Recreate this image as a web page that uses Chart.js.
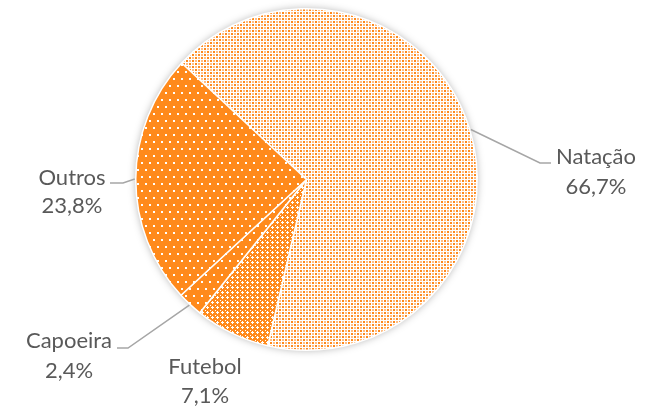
<!DOCTYPE html>
<html>
<head>
<meta charset="utf-8">
<script src="https://cdn.jsdelivr.net/npm/chart.js@4.4.0/dist/chart.umd.min.js"></script>
<style>
html,body{margin:0;padding:0;background:#fff;}
#wrap{width:659px;height:408px;position:relative;}
</style>
</head>
<body>
<div id="wrap"><canvas id="c" width="659" height="408"></canvas></div>
<script>
const categories = ["Natação", "Futebol", "Capoeira", "Outros"];
const values = [66.7, 7.1, 2.4, 23.8];
const valueLabels = ["66,7%", "7,1%", "2,4%", "23,8%"];

const ORANGE = "#FF8A1C";
const PEACH = "#FFBE85";
const WHITE = "#FFFFFF";

function makePattern(w, h, bg, cells) {
  const c = document.createElement("canvas");
  c.width = w; c.height = h;
  const x = c.getContext("2d");
  x.fillStyle = bg; x.fillRect(0, 0, w, h);
  cells.forEach(([cx, cy, cw, ch, col]) => { x.fillStyle = col; x.fillRect(cx, cy, cw, ch); });
  return document.getElementById("c").getContext("2d").createPattern(c, "repeat");
}

const patNatacao = makePattern(6, 6, WHITE, [
  [0,0,2,2,ORANGE],[3,3,2,2,ORANGE],[3,0,2,2,PEACH],[0,3,2,2,PEACH]
]);
const patFutebol = makePattern(5, 5, ORANGE, [
  [2,1,1,3,WHITE],[1,2,3,1,WHITE],[0,0,1,1,WHITE]
]);
const patDots = makePattern(8, 14, ORANGE, [
  [1,1,2,2,WHITE],[5,8,2,2,WHITE]
]);

// label layout (pixel positions of the annotation text and leader elbows)
const labelLayout = [
  { cx: 596, y1: 164, y2: 194, elbow: [540, 163], end: [551, 163] },
  { cx: 205, y1: 374, y2: 403, elbow: null, end: null },
  { cx: 69,  y1: 348, y2: 378, elbow: [128, 348], end: [117, 348] },
  { cx: 72,  y1: 185, y2: 213, elbow: [123, 183], end: [110, 183] }
];

const shadowPlugin = {
  id: "pieShadow",
  beforeDatasetsDraw(chart) {
    const arc = chart.getDatasetMeta(0).data[0];
    if (!arc) return;
    const ctx = chart.ctx;
    ctx.save();
    ctx.shadowColor = "rgba(0,0,0,0.35)";
    ctx.shadowBlur = 9;
    ctx.beginPath();
    ctx.arc(arc.x, arc.y, arc.outerRadius - 0.5, 0, Math.PI * 2);
    ctx.fillStyle = "#ffffff";
    ctx.fill();
    ctx.restore();
  }
};

const labelPlugin = {
  id: "pieLabels",
  afterDatasetsDraw(chart) {
    const ctx = chart.ctx;
    const meta = chart.getDatasetMeta(0);
    ctx.save();
    meta.data.forEach((arc, i) => {
      const L = labelLayout[i];
      const mid = (arc.startAngle + arc.endAngle) / 2;
      if (L.elbow) {
        const r = arc.outerRadius + 1;
        ctx.beginPath();
        ctx.moveTo(arc.x + Math.cos(mid) * r, arc.y + Math.sin(mid) * r);
        ctx.lineTo(L.elbow[0], L.elbow[1]);
        ctx.lineTo(L.end[0], L.end[1]);
        ctx.strokeStyle = "#A6A6A6";
        ctx.lineWidth = 1.5;
        ctx.stroke();
      }
      ctx.fillStyle = "#595959";
      ctx.font = "22px Lato";
      ctx.textAlign = "center";
      ctx.textBaseline = "alphabetic";
      ctx.fillText(categories[i], L.cx, L.y1);
      ctx.fillText(valueLabels[i], L.cx, L.y2);
    });
    ctx.restore();
  }
};

new Chart(document.getElementById("c"), {
  type: "pie",
  data: {
    labels: categories,
    datasets: [{
      data: values,
      backgroundColor: [patNatacao, patFutebol, patDots, patDots],
      borderColor: "#FFFFFF",
      borderWidth: 1.5
    }]
  },
  options: {
    responsive: false,
    animation: false,
    rotation: -47,
    layout: { padding: { top: 8, bottom: 57, left: 135, right: 181 } },
    plugins: { legend: { display: false }, tooltip: { enabled: false } }
  },
  plugins: [shadowPlugin, labelPlugin]
});
</script>
</body>
</html>
